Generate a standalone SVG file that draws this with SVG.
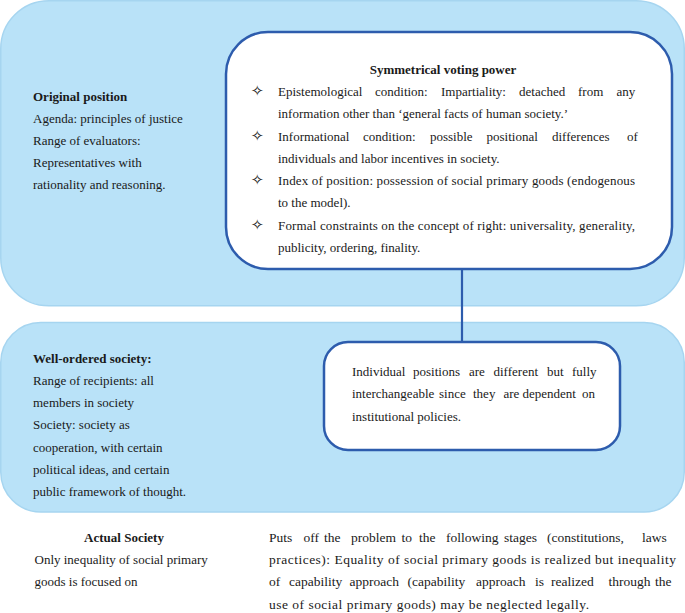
<svg xmlns="http://www.w3.org/2000/svg" width="685" height="613" viewBox="0 0 685 613" font-family="'Liberation Serif', 'DejaVu Serif', serif">
<style>
.panel{fill:#b9e2f8;stroke:#a6d5f0;stroke-width:1.5}
.box{fill:#ffffff;stroke:#2d5cad;stroke-width:2.5}
.conn{stroke:#2d5cad;stroke-width:2.2;fill:none}
text{font-family:"Liberation Serif","DejaVu Serif",serif;font-size:13px;fill:#1a1a1a}
.b{font-weight:bold}
.p{font-size:13.5px}
.bul{font-family:"DejaVu Sans",sans-serif;font-size:15px}
</style>
<rect width="685" height="613" fill="#ffffff"/>
<g id="original-position">
<rect class="panel" x="0.75" y="0.75" width="683.5" height="305" rx="48" ry="48"/>
<text class="b" x="33" y="101">Original position</text>
<text x="33" y="123">Agenda: principles of justice</text>
<text x="33" y="145">Range of evaluators:</text>
<text x="33" y="167">Representatives with</text>
<text x="33" y="189">rationality and reasoning.</text>
</g>
<g id="well-ordered-society">
<rect class="panel" x="0.75" y="322.5" width="683.5" height="189.5" rx="40" ry="40"/>
<text class="b" x="33" y="363">Well-ordered society:</text>
<text x="33" y="385">Range of recipients: all</text>
<text x="33" y="407">members in society</text>
<text x="33" y="429">Society: society as</text>
<text x="33" y="452">cooperation, with certain</text>
<text x="33" y="474">political ideas, and certain</text>
<text x="33" y="496">public framework of thought.</text>
</g>
<g id="connectors">
<line class="conn" x1="462" y1="269" x2="462" y2="342"/>
</g>
<g id="symmetrical-voting-power">
<rect class="box" x="226" y="32" width="446" height="237" rx="42" ry="42"/>
<text class="b" x="443" y="74" text-anchor="middle">Symmetrical voting power</text>
<text class="bul" x="251" y="96">✧</text>
<text y="96"><tspan x="278">Epistemological</tspan><tspan x="375">condition:</tspan><tspan x="441">Impartiality:</tspan><tspan x="519">detached</tspan><tspan x="578">from</tspan><tspan x="616.5">any</tspan></text>
<text x="278" y="118">information other than ‘general facts of human society.’</text>
<text class="bul" x="251" y="141">✧</text>
<text y="141"><tspan x="278">Informational</tspan><tspan x="363">condition:</tspan><tspan x="430">possible</tspan><tspan x="486.5">positional</tspan><tspan x="552">differences</tspan><tspan x="627">of</tspan></text>
<text x="278" y="163">individuals and labor incentives in society.</text>
<text class="bul" x="251" y="185">✧</text>
<text x="278" y="185" textLength="357" lengthAdjust="spacing">Index of position: possession of social primary goods (endogenous</text>
<text x="278" y="207">to the model).</text>
<text class="bul" x="251" y="230">✧</text>
<text x="278" y="230" textLength="357" lengthAdjust="spacing">Formal constraints on the concept of right: universality, generality,</text>
<text x="278" y="252">publicity, ordering, finality.</text>
</g>
<g id="individual-positions">
<rect class="box" x="324" y="342" width="296" height="108" rx="24" ry="24"/>
<text y="376"><tspan x="352">Individual</tspan><tspan x="413">positions</tspan><tspan x="469">are</tspan><tspan x="493.5">different</tspan><tspan x="547">but</tspan><tspan x="572">fully</tspan></text>
<text y="398"><tspan x="352">interchangeable</tspan><tspan x="439">since</tspan><tspan x="473">they</tspan><tspan x="503.5">are</tspan><tspan x="522.5">dependent</tspan><tspan x="582">on</tspan></text>
<text x="352" y="421">institutional policies.</text>
</g>
<g id="actual-society">
<text class="b" x="124" y="542" text-anchor="middle">Actual Society</text>
<text x="34.5" y="564">Only inequality of social primary</text>
<text x="34.5" y="586">goods is focused on</text>
</g>
<g id="puts-off">
<text class="p" y="542"><tspan x="269">Puts</tspan><tspan x="303.5">off</tspan><tspan x="324">the</tspan><tspan x="351">problem</tspan><tspan x="401.5">to</tspan><tspan x="419">the</tspan><tspan x="446">following</tspan><tspan x="504">stages</tspan><tspan x="547">(constitutions,</tspan><tspan x="642">laws</tspan></text>
<text class="p" x="269" y="564" textLength="407" lengthAdjust="spacing">practices): Equality of social primary goods is realized but inequality</text>
<text class="p" y="586"><tspan x="269">of</tspan><tspan x="289">capability</tspan><tspan x="349.5">approach</tspan><tspan x="407.5">(capability</tspan><tspan x="476">approach</tspan><tspan x="535">is</tspan><tspan x="551">realized</tspan><tspan x="608.5">through</tspan><tspan x="655">the</tspan></text>
<text class="p" x="269" y="609" textLength="320" lengthAdjust="spacing">use of social primary goods) may be neglected legally.</text>
</g>
</svg>
